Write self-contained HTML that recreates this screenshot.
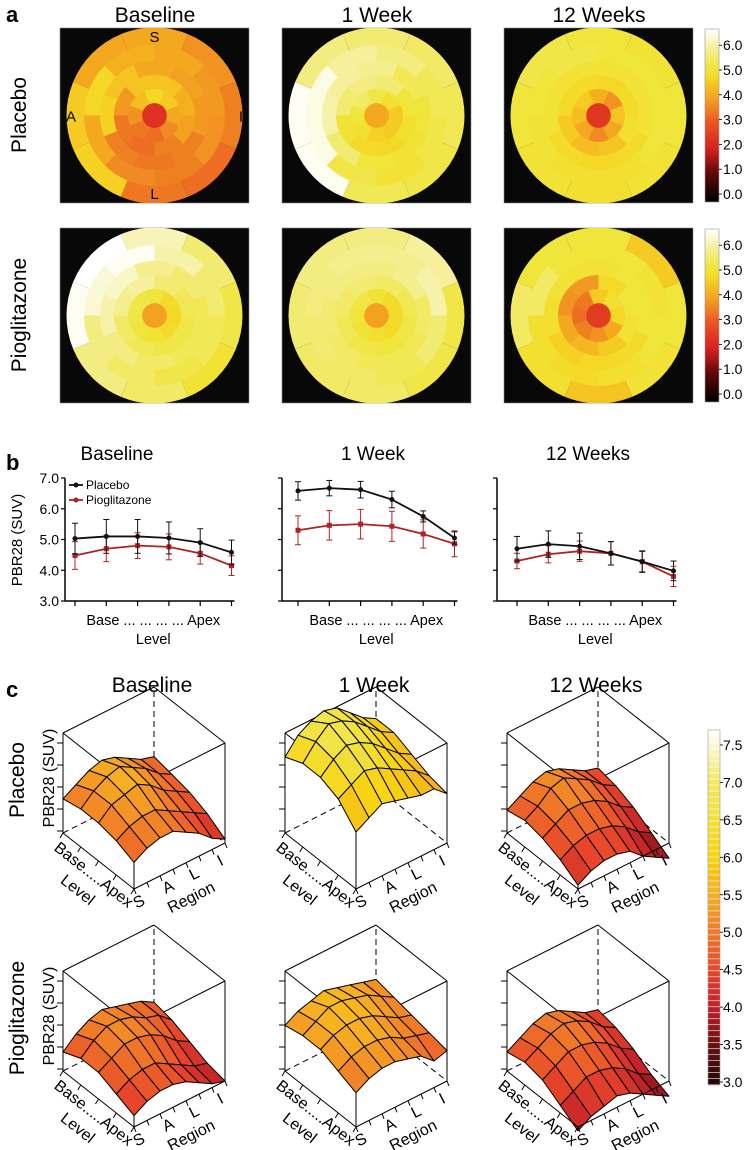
<!DOCTYPE html>
<html><head><meta charset="utf-8">
<style>
html,body{margin:0;padding:0;background:#fff;}
svg{display:block;font-family:"Liberation Sans",Arial,sans-serif;}
</style></head>
<body>
<svg id="fig" width="750" height="1150" viewBox="0 0 750 1150" xmlns="http://www.w3.org/2000/svg">
<defs>
<linearGradient id="gradA" x1="0" y1="1" x2="0" y2="0">
<stop offset="0" stop-color="#000000"/><stop offset="0.16" stop-color="#5a0808"/><stop offset="0.31" stop-color="#d82020"/><stop offset="0.47" stop-color="#eb5a22"/><stop offset="0.55" stop-color="#f08a22"/><stop offset="0.63" stop-color="#f5b020"/><stop offset="0.72" stop-color="#f5d825"/><stop offset="0.78" stop-color="#f0e53a"/><stop offset="0.86" stop-color="#f3ec80"/><stop offset="1" stop-color="#ffffff"/>
</linearGradient>
</defs>
<g id="panelA"></g>
<g id="panelB"></g>
<g id="panelC"></g>
</svg>
<script>
// ---------- Panel a data ----------
const mapCenters = [2.3, 3.9, 2.4, 3.8, 3.8, 2.5];
const map1Rings = [[4.6,4.4,3.9,3.5,3.2,3.3,3.6,4.2],[4.3,4.0,3.8,3.4,3.2,3.3,3.7,4.3],[3.9,3.8,3.7,3.4,3.3,3.4,4.5,4.3],[3.9,3.7,3.6,3.4,3.5,3.9,4.6,4.0],[3.9,3.6,3.4,3.2,3.3,4.5,4.4,3.9]];
const map2Rings = [[5.1,4.8,4.4,4.4,4.5,4.8,5.0,5.3],[5.4,5.0,4.8,4.6,4.7,4.9,5.4,5.5],[5.6,5.2,5.0,4.9,5.0,5.4,5.8,5.7],[5.5,5.2,5.1,4.9,5.1,6.2,6.2,5.7],[5.4,5.3,5.2,5.1,5.2,6.3,6.3,5.5]];
const map3Rings = [[4.0,3.6,4.3,3.9,3.5,3.9,4.2,4.4],[4.6,4.7,4.8,4.3,4.2,4.4,4.7,4.7],[4.9,4.9,4.9,4.7,4.6,4.7,4.9,4.9],[5.0,5.0,5.0,4.8,4.8,4.9,5.0,5.1],[5.0,4.9,5.0,4.9,4.8,4.9,5.0,5.1]];
const map4Rings = [[5.0,4.7,4.6,4.7,4.9,5.0,5.1,5.1],[5.4,5.2,5.1,5.1,5.2,5.3,5.6,5.7],[5.6,5.4,5.2,5.2,5.3,5.5,5.8,6.0],[5.8,5.4,5.2,5.1,5.3,5.5,6.1,6.3],[5.9,5.4,5.1,4.9,5.3,5.5,6.3,6.4]];
const map5Rings = [[4.9,4.7,4.7,4.7,4.8,4.9,5.0,5.1],[5.3,5.2,5.1,5.0,5.1,5.2,5.3,5.4],[5.5,5.6,5.3,5.2,5.2,5.3,5.4,5.5],[5.6,5.8,5.4,5.2,5.3,5.4,5.5,5.6],[5.5,5.7,5.1,5.1,5.3,5.3,5.4,5.5]];
const map6Rings = [[4.4,4.8,4.6,3.9,3.6,3.4,3.2,3.3],[4.7,5.0,4.9,4.4,4.1,3.9,3.6,3.7],[4.9,5.0,5.0,4.7,4.6,4.5,4.8,4.9],[5.0,4.9,5.0,4.8,4.7,4.8,5.3,5.0],[5.0,4.4,5.0,4.9,4.3,4.8,5.3,5.0]];
const colTitles = ["Baseline", "1 Week", "12 Weeks"];
const rowTitles = ["Placebo", "Pioglitazone"];
const cbarATicks = [0, 1, 2, 3, 4, 5, 6];

// ---------- Panel b data ----------
const levelLabels = ["Base", "...", "...", "...", "...", "Apex"];
const bPlaceboBaseline = [5.03, 5.10, 5.10, 5.05, 4.90, 4.58];
const bPlaceboBaselineErr = [0.50, 0.55, 0.55, 0.52, 0.45, 0.40];
const bPioBaseline = [4.48, 4.70, 4.80, 4.76, 4.55, 4.15];
const bPioBaselineErr = [0.45, 0.42, 0.42, 0.42, 0.35, 0.32];
const bPlacebo1W = [6.58, 6.67, 6.62, 6.30, 5.75, 5.05];
const bPlacebo1WErr = [0.30, 0.25, 0.27, 0.27, 0.18, 0.20];
const bPio1W = [5.30, 5.46, 5.50, 5.43, 5.18, 4.86];
const bPio1WErr = [0.47, 0.48, 0.48, 0.49, 0.46, 0.42];
const bPlacebo12W = [4.70, 4.85, 4.78, 4.55, 4.28, 3.98];
const bPlacebo12WErr = [0.40, 0.43, 0.43, 0.38, 0.35, 0.32];
const bPio12W = [4.30, 4.52, 4.62, 4.55, 4.28, 3.80];
const bPio12WErr = [0.25, 0.28, 0.33, 0.38, 0.33, 0.33];
const bYTicks = [3.0, 4.0, 5.0, 6.0, 7.0];

// ---------- Panel c data (rows = level Base..Apex, cols = region S..I) ----------
const cPlaceboBaseline = [[4.9,5.1,5.3,5.4,5.3,5.1,4.9,4.8],[5.0,5.3,5.5,5.6,5.4,5.2,4.9,4.7],[5.0,5.3,5.4,5.5,5.3,5.0,4.8,4.6],[4.9,5.1,5.2,5.2,5.0,4.8,4.6,4.4],[4.7,4.9,5.0,5.0,4.8,4.6,4.3,4.1]];
const cPlacebo1W = [[6.0,6.4,6.6,6.7,6.6,6.3,6.0,5.8],[6.2,6.6,6.9,6.8,6.6,6.3,6.0,5.8],[6.2,6.5,6.7,6.6,6.4,6.1,5.8,5.6],[6.0,6.2,6.4,6.3,6.1,5.9,5.7,5.4],[5.5,5.7,5.9,5.8,5.7,5.6,5.6,5.3]];
const cPlacebo12W = [[4.6,4.8,5.0,5.1,5.0,4.8,4.6,4.5],[4.7,4.9,5.2,5.3,5.1,4.9,4.6,4.4],[4.6,4.8,5.0,5.0,4.9,4.7,4.4,4.2],[4.4,4.6,4.7,4.7,4.6,4.4,4.1,3.9],[4.1,4.3,4.4,4.4,4.3,4.0,3.8,3.6]];
const cPioBaseline = [[4.5,4.8,5.0,5.1,5.0,4.9,4.8,4.6],[4.7,5.0,5.2,5.2,5.1,4.9,4.8,4.5],[4.7,4.9,5.1,5.1,5.0,4.8,4.5,4.3],[4.5,4.7,4.8,4.8,4.6,4.4,4.2,4.1],[4.3,4.5,4.6,4.6,4.5,4.3,4.1,4.0]];
const cPio1W = [[5.2,5.4,5.5,5.6,5.5,5.4,5.3,5.2],[5.3,5.5,5.7,5.7,5.6,5.5,5.3,5.1],[5.3,5.5,5.6,5.6,5.5,5.3,5.1,5.0],[5.1,5.3,5.4,5.4,5.3,5.1,5.0,4.9],[4.9,5.1,5.2,5.2,5.1,5.0,4.7,4.8]];
const cPio12W = [[4.5,4.7,4.9,5.0,4.9,4.7,4.5,4.4],[4.6,4.8,5.0,5.1,5.0,4.8,4.5,4.3],[4.5,4.7,4.9,4.9,4.8,4.6,4.3,4.1],[4.2,4.4,4.6,4.6,4.5,4.3,4.0,3.8],[3.9,4.1,4.2,4.3,4.2,4.0,3.8,3.6]];
const regionLabels = ["S", "A", "L", "I"];
const cbarCTicks = [3.0, 3.5, 4.0, 4.5, 5.0, 5.5, 6.0, 6.5, 7.0, 7.5];

const NS = "http://www.w3.org/2000/svg";
function mk(parent, tag, attrs, text) {
  const e = document.createElementNS(NS, tag);
  for (const k in attrs) e.setAttribute(k, attrs[k]);
  if (text !== undefined) e.textContent = text;
  parent.appendChild(e);
  return e;
}
function hex(h){return [parseInt(h.slice(1,3),16),parseInt(h.slice(3,5),16),parseInt(h.slice(5,7),16)];}
function interp(stops, v) {
  if (v <= stops[0][0]) return stops[0][1];
  for (let i = 1; i < stops.length; i++) {
    if (v <= stops[i][0]) {
      const t = (v - stops[i-1][0]) / (stops[i][0] - stops[i-1][0]);
      const a = hex(stops[i-1][1]), b = hex(stops[i][1]);
      return "rgb(" + a.map((x, k) => Math.round(x + (b[k] - x) * t)).join(",") + ")";
    }
  }
  return stops[stops.length-1][1];
}
const cmapA = [[0,"#000000"],[1,"#5a0808"],[2,"#d82020"],[3,"#eb5a22"],[3.5,"#f08a22"],[4,"#f5b020"],[4.6,"#f5d825"],[5,"#f0e53a"],[5.5,"#f3ec80"],[6.4,"#ffffff"]];
const cmapC = [[2.9,"#1a0505"],[3.5,"#6a1010"],[4.0,"#c0202a"],[4.5,"#e8452a"],[5.0,"#f07a28"],[5.5,"#f6ae22"],[6.0,"#f9d20f"],[6.5,"#f1e03a"],[7.0,"#f3e860"],[7.5,"#fbf8d8"],[7.7,"#ffffff"]];

// ================= Panel a =================
const A = document.getElementById("panelA");
const maps = [map1Rings, map2Rings, map3Rings, map4Rings, map5Rings, map6Rings];
const ringR = [0.14, 0.30, 0.46, 0.62, 0.80, 1.0];
let t = mk(A, "text", {x: 6, y: 22, "font-size": 22, "font-weight": "bold"}, "a");


colTitles.forEach((s, c) => {
  const e = mk(A, "text", {x: 155 + c*222, y: 22, "font-size": 21, "text-anchor": "middle"}, s);
  
  
});
rowTitles.forEach((s, r) => {
  const cy = 115 + r*200;
  const e = mk(A, "text", {x: 0, y: 0, "font-size": 21, "text-anchor": "middle", transform: "translate(26," + cy + ") rotate(-90)"}, s);
  
  
});
function wedge(cx, cy, r, a0, a1) {
  const p = (a) => [cx + r*Math.sin(a*Math.PI/180), cy - r*Math.cos(a*Math.PI/180)];
  const s = p(a0), e = p(a1);
  return "M" + cx + "," + cy + "L" + s[0].toFixed(2) + "," + s[1].toFixed(2) + "A" + r + "," + r + " 0 0 1 " + e[0].toFixed(2) + "," + e[1].toFixed(2) + "Z";
}
maps.forEach((rings, m) => {
  const c = m % 3, r = Math.floor(m / 3);
  const x = 60 + c*222, y = 28 + r*200, w = 189, h = 175;
  const g = mk(A, "g", {});
  
  
  mk(g, "rect", {x: x, y: y, width: w, height: h, fill: "#080808", stroke: "#888", "stroke-width": 0.6});
  const cx = x + w/2, cy = y + h/2, R = 88;
  const clipId = "clipA" + m;
  const cp = mk(g, "clipPath", {id: clipId});
  mk(cp, "rect", {x: x, y: y, width: w, height: h});
  const inner = mk(g, "g", {"clip-path": "url(#" + clipId + ")"});
  for (let k = rings.length - 1; k >= 0; k--) {
    const rad = R * ringR[k+1];
    const off = (k % 2) ? 22.5 : 0;
    rings[k].forEach((v, s) => {
      const a0 = s*45 - 22.5 + off;
      const p = mk(inner, "path", {d: wedge(cx, cy, rad, a0, a0 + 45), fill: interp(cmapA, v)});
      
      
    });
  }
  const cc = mk(inner, "circle", {cx: cx, cy: cy, r: R*ringR[0], fill: interp(cmapA, mapCenters[m])});
  
  
  if (m === 0) {
    [["S", cx, y + 14], ["L", cx, y + h - 4], ["A", x + 11, cy + 6], ["I", x + w - 8, cy + 6]].forEach(q => {
      const e = mk(g, "text", {x: q[1], y: q[2], "font-size": 15, "text-anchor": "middle"}, q[0]);
      
      
    });
  }
});
for (let r = 0; r < 2; r++) {
  const g = mk(A, "g", {});
  
  
  const top = 29 + r*200, bot = 202 + r*200;
  mk(g, "rect", {x: 705, y: top, width: 14, height: bot - top, fill: "url(#gradA)", stroke: "#999", "stroke-width": 0.6});
  cbarATicks.forEach(v => {
    const yy = 194 + r*200 - v*24.8;
    mk(g, "line", {x1: 719, x2: 722, y1: yy, y2: yy, stroke: "#000", "stroke-width": 0.8});
    const e = mk(g, "text", {x: 723, y: yy + 5, "font-size": 14}, v.toFixed(1));
    
    
  });
}

// ================= Panel b =================
const B = document.getElementById("panelB");
t = mk(B, "text", {x: 6, y: 470, "font-size": 22, "font-weight": "bold"}, "b");


const bAxisX = [65, 282, 497];
const bFirstX = [75, 298, 517];
const bStep = 31.3;
const yB = v => 601 - (v - 3) * 30.75;
const bSeries = [
  [bPlaceboBaseline, bPlaceboBaselineErr, bPioBaseline, bPioBaselineErr],
  [bPlacebo1W, bPlacebo1WErr, bPio1W, bPio1WErr],
  [bPlacebo12W, bPlacebo12WErr, bPio12W, bPio12WErr]];
const bTitleX = [117, 373, 588];
bSeries.forEach((ser, p) => {
  const g = mk(B, "g", {});
  
  
  const tt = mk(g, "text", {x: bTitleX[p], y: 460, "font-size": 19, "text-anchor": "middle"}, colTitles[p]);
  
  
  const ax = bAxisX[p];
  const xOf = i => bFirstX[p] + i * bStep;
  const lastX = xOf(levelLabels.length - 1);
  mk(g, "line", {x1: ax, x2: ax, y1: 478, y2: 601.5, stroke: "#000", "stroke-width": 1.5});
  mk(g, "line", {x1: ax, x2: lastX + 3, y1: 601, y2: 601, stroke: "#000", "stroke-width": 1.5});
  bYTicks.forEach(v => {
    mk(g, "line", {x1: ax - 4, x2: ax, y1: yB(v), y2: yB(v), stroke: "#000", "stroke-width": 1.2});
    if (p === 0) {
      const e = mk(g, "text", {x: ax - 6, y: yB(v) + 5, "font-size": 14, "text-anchor": "end"}, v.toFixed(1));
      
      
    }
  });
  levelLabels.forEach((s, i) => {
    mk(g, "line", {x1: xOf(i), x2: xOf(i), y1: 601, y2: 606, stroke: "#000", "stroke-width": 1.2});
  });
  const tl = mk(g, "text", {x: (bFirstX[p] + lastX)/2, y: 625, "font-size": 14.5, "text-anchor": "middle"}, levelLabels.join(" "));
  
  
  const xl = mk(g, "text", {x: (bFirstX[p] + lastX)/2, y: 644, "font-size": 14.5, "text-anchor": "middle"}, "Level");
  
  
  [[ser[2], ser[3], "#b22222", "pioglitazone"], [ser[0], ser[1], "#111111", "placebo"]].forEach(([vals, errs, col, nm]) => {
    const sg = mk(g, "g", {});
    
    
    vals.forEach((v, i) => {
      const x = xOf(i);
      mk(sg, "line", {x1: x, x2: x, y1: yB(v + errs[i]), y2: yB(v - errs[i]), stroke: col, "stroke-width": 1});
      mk(sg, "line", {x1: x - 3, x2: x + 3, y1: yB(v + errs[i]), y2: yB(v + errs[i]), stroke: col, "stroke-width": 1});
      mk(sg, "line", {x1: x - 3, x2: x + 3, y1: yB(v - errs[i]), y2: yB(v - errs[i]), stroke: col, "stroke-width": 1});
    });
    mk(sg, "polyline", {points: vals.map((v, i) => xOf(i) + "," + yB(v)).join(" "), fill: "none", stroke: col, "stroke-width": 1.8});
    vals.forEach((v, i) => {
      const mkr = nm === "placebo" ? mk(sg, "circle", {cx: xOf(i), cy: yB(v), r: 2.5, fill: col}) : mk(sg, "rect", {x: xOf(i) - 2.5, y: yB(v) - 2.5, width: 5, height: 5, fill: col});
      
      
    });
  });
});
const yt = mk(B, "text", {x: 0, y: 0, "font-size": 15, "text-anchor": "middle", transform: "translate(22,540) rotate(-90)"}, "PBR28 (SUV)");


[["Placebo", "#111111", 485], ["Pioglitazone", "#b22222", 500]].forEach(([s, col, y]) => {
  const lg = mk(B, "g", {});
  
  
  mk(lg, "line", {x1: 69, x2: 83, y1: y, y2: y, stroke: col, "stroke-width": 1.8});
  mk(lg, "circle", {cx: 76, cy: y, r: 2.5, fill: col});
  mk(lg, "text", {x: 86, y: y + 4, "font-size": 12}, s);
});

// ================= Panel c =================
const C = document.getElementById("panelC");
t = mk(C, "text", {x: 6, y: 697, "font-size": 22, "font-weight": "bold"}, "c");


colTitles.forEach((s, c) => {
  const e = mk(C, "text", {x: 152 + c*222, y: 692, "font-size": 21, "text-anchor": "middle"}, s);
  
  
});
rowTitles.forEach((s, r) => {
  const cy = 780 + r*238;
  const e = mk(C, "text", {x: 0, y: 0, "font-size": 21, "text-anchor": "middle", transform: "translate(24," + cy + ") rotate(-90)"}, s);
  
  
});
const surfaces = [cPlaceboBaseline, cPlacebo1W, cPlacebo12W, cPioBaseline, cPio1W, cPio12W];
const zH = z => (z - 4.0) * 38;
surfaces.forEach((grid, m) => {
  const c = m % 3, r = Math.floor(m / 3);
  const dx = c*222, dy = r*238;
  const g = mk(C, "g", {});
  
  
  const L = [63 + dx, 833 + dy], F = [134 + dx, 889 + dy], R = [225 + dx, 843 + dy];
  const Bk = [L[0] + R[0] - F[0], L[1] + R[1] - F[1]];
  const H = 100;
  const up = p => [p[0], p[1] - H];
  const ln = (a, b, dash) => mk(g, "line", {x1: a[0], y1: a[1], x2: b[0], y2: b[1], stroke: "#000", "stroke-width": 1, "stroke-dasharray": dash ? "6,4" : "none"});
  ln(L, Bk, true); ln(Bk, R, true); ln(Bk, up(Bk), true);
  ln(up(L), up(Bk)); ln(up(Bk), up(R)); ln(up(L), up(F)); ln(up(F), up(R));
  ln(L, up(L)); ln(R, up(R)); ln(F, up(F));
  const nL = grid.length, nR = grid[0].length;
  const P = (i, j, z) => [L[0] + (F[0]-L[0])*i/(nL-1) + (R[0]-F[0])*j/(nR-1), L[1] + (F[1]-L[1])*i/(nL-1) + (R[1]-F[1])*j/(nR-1) - zH(z)];
  const cells = [];
  for (let i = 0; i < nL - 1; i++) for (let j = 0; j < nR - 1; j++) cells.push([i, j]);
  cells.sort((a, b) => (a[0] - a[1]) - (b[0] - b[1]));
  cells.forEach(([i, j]) => {
    const z00 = grid[i][j], z01 = grid[i][j+1], z11 = grid[i+1][j+1], z10 = grid[i+1][j];
    const pts = [P(i, j, z00), P(i, j+1, z01), P(i+1, j+1, z11), P(i+1, j, z10)];
    const avg = (z00 + z01 + z11 + z10) / 4;
    const q = mk(g, "polygon", {points: pts.map(p => p[0].toFixed(1) + "," + p[1].toFixed(1)).join(" "), fill: interp(cmapC, avg), stroke: "#000", "stroke-width": 1, "stroke-linejoin": "round"});
    
    
  });
  ln(L, F); ln(F, R);
  const fz = P(nL-1, 0, grid[nL-1][0]);
  ln(F, fz);
  for (let k = 0; k < 5; k++) {
    const yy = L[1] - 2 - k*22;
    mk(g, "line", {x1: L[0] - 6, x2: L[0], y1: yy, y2: yy, stroke: "#000", "stroke-width": 1});
  }
  for (let i = 0; i < 5; i++) {
    const px = L[0] + (F[0]-L[0])*i/4, py = L[1] + (F[1]-L[1])*i/4;
    mk(g, "line", {x1: px, y1: py, x2: px - 3, y2: py + 5, stroke: "#000", "stroke-width": 1});
  }
  for (let j = 0; j < 8; j++) {
    const px = F[0] + (R[0]-F[0])*j/7, py = F[1] + (R[1]-F[1])*j/7;
    mk(g, "line", {x1: px, y1: py, x2: px + 2, y2: py + 5, stroke: "#000", "stroke-width": 1});
  }
  const ang1 = Math.atan2(F[1]-L[1], F[0]-L[0]) * 180 / Math.PI;
  const ang2 = Math.atan2(R[1]-F[1], R[0]-F[0]) * 180 / Math.PI;
  const mid1 = [(L[0]+F[0])/2, (L[1]+F[1])/2];
  let e = mk(g, "text", {x: 0, y: 0, "font-size": 16, "text-anchor": "middle", transform: "translate(" + (mid1[0]-8) + "," + (mid1[1]+18) + ") rotate(" + ang1 + ")"}, "Base.....Apex");
  
  
  e = mk(g, "text", {x: 0, y: 0, "font-size": 16, "text-anchor": "middle", transform: "translate(" + (mid1[0]-24) + "," + (mid1[1]+33) + ") rotate(" + ang1 + ")"}, "Level");
  
  
  const regPos = [0.25, 2.5, 4.5, 6.5];
  regionLabels.forEach((s, k) => {
    const j = regPos[k];
    const px = F[0] + (R[0]-F[0])*j/7 + 4, py = F[1] + (R[1]-F[1])*j/7 + 19;
    const tx = mk(g, "text", {x: 0, y: 0, "font-size": 16, "text-anchor": "middle", transform: "translate(" + px + "," + py + ") rotate(" + ang2 + ")"}, s);
    
    
  });
  const mid2 = [(F[0]+R[0])/2, (F[1]+R[1])/2];
  e = mk(g, "text", {x: 0, y: 0, "font-size": 16, "text-anchor": "middle", transform: "translate(" + (mid2[0]+14) + "," + (mid2[1]+36) + ") rotate(" + ang2 + ")"}, "Region");
  
  
  if (c === 0) {
    e = mk(g, "text", {x: 0, y: 0, "font-size": 16, "text-anchor": "middle", transform: "translate(" + (L[0]-9) + "," + (L[1]-55) + ") rotate(-90)"}, "PBR28 (SUV)");
    
    
  }
});
const cb = mk(C, "g", {});


const yC = v => 1082 - (v - 3.0) * 74.9;
for (let v = 2.96; v < 7.7; v += 0.08) {
  mk(cb, "rect", {x: 708, y: yC(v + 0.08), width: 12, height: 74.9*0.08 - 0.6, fill: interp(cmapC, v + 0.04)});
}
mk(cb, "rect", {x: 708, y: yC(7.7), width: 12, height: yC(2.96) - yC(7.7), fill: "none", stroke: "#999", "stroke-width": 0.6});
cbarCTicks.forEach(v => {
  mk(cb, "line", {x1: 720, x2: 723, y1: yC(v), y2: yC(v), stroke: "#000", "stroke-width": 0.8});
  const e = mk(cb, "text", {x: 723, y: yC(v) + 5, "font-size": 14}, v.toFixed(1));
  
  
});
</script>
</body></html>
